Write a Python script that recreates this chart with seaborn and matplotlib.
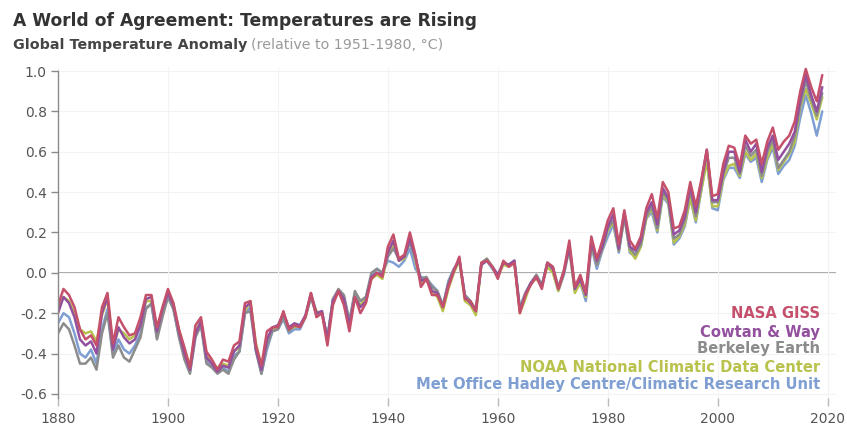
import matplotlib
matplotlib.use("Agg")
import matplotlib.pyplot as plt
import seaborn as sns
import numpy as np
import pandas as pd

years = list(range(1880, 2020))

nasa_giss = [
    -0.16, -0.08, -0.11, -0.17, -0.28, -0.33, -0.31, -0.36, -0.17, -0.10,
    -0.35, -0.22, -0.27, -0.31, -0.30, -0.22, -0.11, -0.11, -0.27, -0.17,
    -0.08, -0.15, -0.28, -0.37, -0.47, -0.26, -0.22, -0.39, -0.43, -0.48,
    -0.43, -0.44, -0.36, -0.34, -0.15, -0.14, -0.36, -0.46, -0.29, -0.27,
    -0.27, -0.19, -0.28, -0.26, -0.27, -0.22, -0.10, -0.22, -0.20, -0.36,
    -0.16, -0.09, -0.16, -0.29, -0.12, -0.20, -0.15, -0.03, -0.00, -0.02,
    0.13, 0.19, 0.07, 0.09, 0.20, 0.09, -0.07, -0.03, -0.11, -0.11,
    -0.17, -0.07, 0.01, 0.08, -0.13, -0.14, -0.19, 0.05, 0.06, 0.03,
    -0.03, 0.06, 0.03, 0.05, -0.20, -0.11, -0.06, -0.02, -0.08, 0.05,
    0.03, -0.08, 0.01, 0.16, -0.07, -0.01, -0.10, 0.18, 0.07, 0.16,
    0.26, 0.32, 0.14, 0.31, 0.16, 0.12, 0.18, 0.32, 0.39, 0.27,
    0.45, 0.40, 0.22, 0.23, 0.31, 0.45, 0.33, 0.46, 0.61, 0.38,
    0.39, 0.54, 0.63, 0.62, 0.53, 0.68, 0.64, 0.66, 0.54, 0.65,
    0.72, 0.61, 0.65, 0.68, 0.75, 0.90, 1.01, 0.92, 0.85, 0.98,
]

cowtan_way = [
    -0.20, -0.12, -0.15, -0.22, -0.33, -0.36, -0.34, -0.40, -0.20, -0.12,
    -0.38, -0.27, -0.32, -0.35, -0.33, -0.26, -0.13, -0.12, -0.29, -0.18,
    -0.10, -0.16, -0.29, -0.40, -0.48, -0.30, -0.24, -0.42, -0.45, -0.49,
    -0.46, -0.47, -0.39, -0.36, -0.17, -0.15, -0.38, -0.48, -0.33, -0.27,
    -0.26, -0.20, -0.27, -0.25, -0.26, -0.21, -0.10, -0.20, -0.19, -0.33,
    -0.14, -0.09, -0.13, -0.26, -0.12, -0.17, -0.14, -0.02, 0.00, -0.01,
    0.10, 0.16, 0.06, 0.08, 0.17, 0.08, -0.04, -0.03, -0.09, -0.10,
    -0.17, -0.06, 0.01, 0.07, -0.12, -0.15, -0.19, 0.04, 0.06, 0.03,
    -0.01, 0.05, 0.04, 0.06, -0.19, -0.11, -0.05, -0.02, -0.07, 0.05,
    0.02, -0.08, 0.00, 0.13, -0.08, -0.03, -0.11, 0.15, 0.06, 0.13,
    0.23, 0.29, 0.12, 0.30, 0.13, 0.11, 0.16, 0.30, 0.35, 0.24,
    0.42, 0.37, 0.19, 0.21, 0.28, 0.43, 0.30, 0.45, 0.61, 0.36,
    0.36, 0.50, 0.60, 0.60, 0.50, 0.66, 0.60, 0.64, 0.50, 0.62,
    0.68, 0.56, 0.60, 0.64, 0.70, 0.86, 0.98, 0.88, 0.80, 0.92,
]

berkeley_earth = [
    -0.30, -0.25, -0.28, -0.36, -0.45, -0.45, -0.42, -0.48, -0.30, -0.20,
    -0.42, -0.36, -0.42, -0.44, -0.38, -0.32, -0.18, -0.15, -0.33, -0.22,
    -0.12, -0.18, -0.32, -0.43, -0.50, -0.32, -0.26, -0.45, -0.47, -0.50,
    -0.48, -0.50, -0.43, -0.39, -0.20, -0.19, -0.39, -0.50, -0.36, -0.29,
    -0.28, -0.22, -0.29, -0.26, -0.27, -0.22, -0.12, -0.21, -0.19, -0.33,
    -0.13, -0.08, -0.11, -0.24, -0.09, -0.14, -0.12, 0.00, 0.02, 0.00,
    0.08, 0.12, 0.07, 0.08, 0.15, 0.07, -0.03, -0.02, -0.07, -0.09,
    -0.16, -0.05, 0.02, 0.06, -0.11, -0.14, -0.18, 0.05, 0.07, 0.03,
    -0.01, 0.05, 0.04, 0.06, -0.18, -0.10, -0.05, -0.01, -0.06, 0.05,
    0.03, -0.07, 0.01, 0.13, -0.07, -0.03, -0.11, 0.15, 0.04, 0.12,
    0.22, 0.26, 0.11, 0.28, 0.12, 0.09, 0.14, 0.28, 0.33, 0.22,
    0.40, 0.36, 0.17, 0.19, 0.26, 0.41, 0.28, 0.43, 0.60, 0.35,
    0.35, 0.49, 0.57, 0.57, 0.49, 0.63, 0.58, 0.61, 0.48, 0.60,
    0.66, 0.52, 0.56, 0.60, 0.68, 0.83, 0.95, 0.86, 0.78, 0.89,
]

noaa_ncdc = [
    -0.18, -0.12, -0.14, -0.20, -0.28, -0.30, -0.29, -0.34, -0.21, -0.13,
    -0.37, -0.28, -0.30, -0.33, -0.31, -0.26, -0.14, -0.14, -0.29, -0.19,
    -0.11, -0.17, -0.28, -0.38, -0.46, -0.29, -0.24, -0.41, -0.45, -0.47,
    -0.45, -0.46, -0.39, -0.37, -0.19, -0.14, -0.35, -0.46, -0.34, -0.28,
    -0.26, -0.22, -0.28, -0.27, -0.26, -0.22, -0.11, -0.19, -0.20, -0.33,
    -0.14, -0.09, -0.13, -0.25, -0.12, -0.16, -0.13, -0.03, -0.01, -0.03,
    0.09, 0.14, 0.06, 0.07, 0.17, 0.06, -0.05, -0.03, -0.09, -0.12,
    -0.19, -0.08, 0.00, 0.06, -0.14, -0.16, -0.21, 0.04, 0.07, 0.03,
    -0.02, 0.04, 0.03, 0.05, -0.20, -0.13, -0.05, -0.03, -0.06, 0.03,
    0.00, -0.09, 0.00, 0.12, -0.10, -0.05, -0.12, 0.14, 0.04, 0.12,
    0.21, 0.25, 0.11, 0.28, 0.11, 0.07, 0.13, 0.27, 0.32, 0.21,
    0.39, 0.35, 0.15, 0.18, 0.24, 0.37, 0.26, 0.41, 0.55, 0.33,
    0.33, 0.47, 0.53, 0.54, 0.48, 0.60, 0.56, 0.59, 0.47, 0.57,
    0.64, 0.51, 0.55, 0.59, 0.65, 0.82, 0.91, 0.84, 0.76, 0.87,
]

met_office = [
    -0.25, -0.20, -0.22, -0.30, -0.40, -0.42, -0.38, -0.45, -0.28, -0.18,
    -0.40, -0.33, -0.38, -0.40, -0.36, -0.30, -0.17, -0.16, -0.32, -0.20,
    -0.12, -0.18, -0.31, -0.41, -0.49, -0.31, -0.25, -0.44, -0.46, -0.49,
    -0.47, -0.49, -0.41, -0.39, -0.20, -0.17, -0.38, -0.50, -0.38, -0.29,
    -0.28, -0.23, -0.30, -0.28, -0.28, -0.22, -0.12, -0.20, -0.20, -0.32,
    -0.13, -0.10, -0.12, -0.24, -0.10, -0.14, -0.12, -0.02, 0.02, 0.00,
    0.06, 0.05, 0.03, 0.06, 0.12, 0.02, -0.02, -0.03, -0.06, -0.09,
    -0.17, -0.04, 0.02, 0.06, -0.11, -0.14, -0.19, 0.04, 0.06, 0.02,
    -0.02, 0.05, 0.04, 0.06, -0.17, -0.10, -0.05, -0.01, -0.06, 0.04,
    0.01, -0.09, -0.01, 0.12, -0.09, -0.05, -0.14, 0.13, 0.02, 0.11,
    0.18, 0.24, 0.10, 0.28, 0.10, 0.08, 0.13, 0.27, 0.30, 0.20,
    0.38, 0.34, 0.14, 0.17, 0.23, 0.37, 0.25, 0.41, 0.57, 0.32,
    0.31, 0.46, 0.52, 0.52, 0.47, 0.59, 0.55, 0.57, 0.45, 0.56,
    0.62, 0.49, 0.53, 0.56, 0.63, 0.77, 0.88, 0.79, 0.68, 0.80,
]

series_names = [
    "NASA GISS",
    "Cowtan & Way",
    "Berkeley Earth",
    "NOAA National Climatic Data Center",
    "Met Office Hadley Centre/Climatic Research Unit",
]
series_values = [nasa_giss, cowtan_way, berkeley_earth, noaa_ncdc, met_office]
series_colors = ["#c4506b", "#93509f", "#8c8c8c", "#b9c24c", "#7f9fd2"]

x_ticks = [1880, 1900, 1920, 1940, 1960, 1980, 2000, 2020]
y_ticks = [-0.6, -0.4, -0.2, 0.0, 0.2, 0.4, 0.6, 0.8, 1.0]

df = pd.concat(
    [pd.DataFrame({"year": years, "anomaly": v, "source": n})
     for n, v in zip(series_names, series_values)],
    ignore_index=True,
)

sns.set_theme(style="white")
plt.rcParams["font.family"] = ["DejaVu Sans"]

W, H = 847, 429
fig = plt.figure(figsize=(W / 100, H / 100), dpi=100)
ax = fig.add_axes([58 / W, 1 - 406 / H, (836 - 58) / W, (406 - 67) / H])

palette = dict(zip(series_names, series_colors))
sns.lineplot(
    data=df, x="year", y="anomaly", hue="source",
    hue_order=series_names[::-1], palette=palette,
    linewidth=1.8, ax=ax, legend=False,
)

ax.set_xlim(1880, 2021.5)
ax.set_ylim(-0.66, 1.02)
ax.axhline(0, color="#9a9a9a", linewidth=1.2, zorder=0)

ax.set_xticks(x_ticks)
ax.set_yticks(y_ticks)
ax.set_yticklabels([f"{t:.1f}" for t in y_ticks])
ax.set_xlabel("")
ax.set_ylabel("")
ax.grid(True, color="#f3f3f3", linewidth=0.8)
ax.set_axisbelow(True)

for s in ["top", "right", "bottom"]:
    ax.spines[s].set_visible(False)
ax.spines["left"].set_color("#8a8a8a")
ax.spines["left"].set_linewidth(1.0)
ax.spines["left"].set_bounds(-0.62, 1.0)

ax.tick_params(axis="y", which="both", left=True, direction="out", length=5,
               width=1, color="#8a8a8a", labelsize=10, labelcolor="#555555", pad=3)
ax.tick_params(axis="x", which="both", bottom=True, direction="in", length=6,
               width=1, color="#bbbbbb", labelsize=10, labelcolor="#555555", pad=4)

# Legend as right-aligned colored text
legend_y = [313, 332, 349, 367, 385]
for name, col, yp in zip(series_names, series_colors, legend_y):
    fig.text(820 / W, 1 - yp / H, name, ha="right", va="center",
             fontsize=10.6, fontweight="bold", color=col)

fig.text(13 / W, 1 - 21 / H, "A World of Agreement: Temperatures are Rising",
         ha="left", va="center", fontsize=12.3, fontweight="bold", color="#333333")
t1 = fig.text(13 / W, 1 - 45 / H, "Global Temperature Anomaly",
              ha="left", va="center", fontsize=10.3, fontweight="bold", color="#444444")
fig.canvas.draw()
bb = t1.get_window_extent()
fig.text((bb.x1 + 4) / W, 1 - 45 / H, "(relative to 1951-1980, °C)",
         ha="left", va="center", fontsize=10.3, color="#9a9a9a")

fig.savefig("out.png", dpi=100)
